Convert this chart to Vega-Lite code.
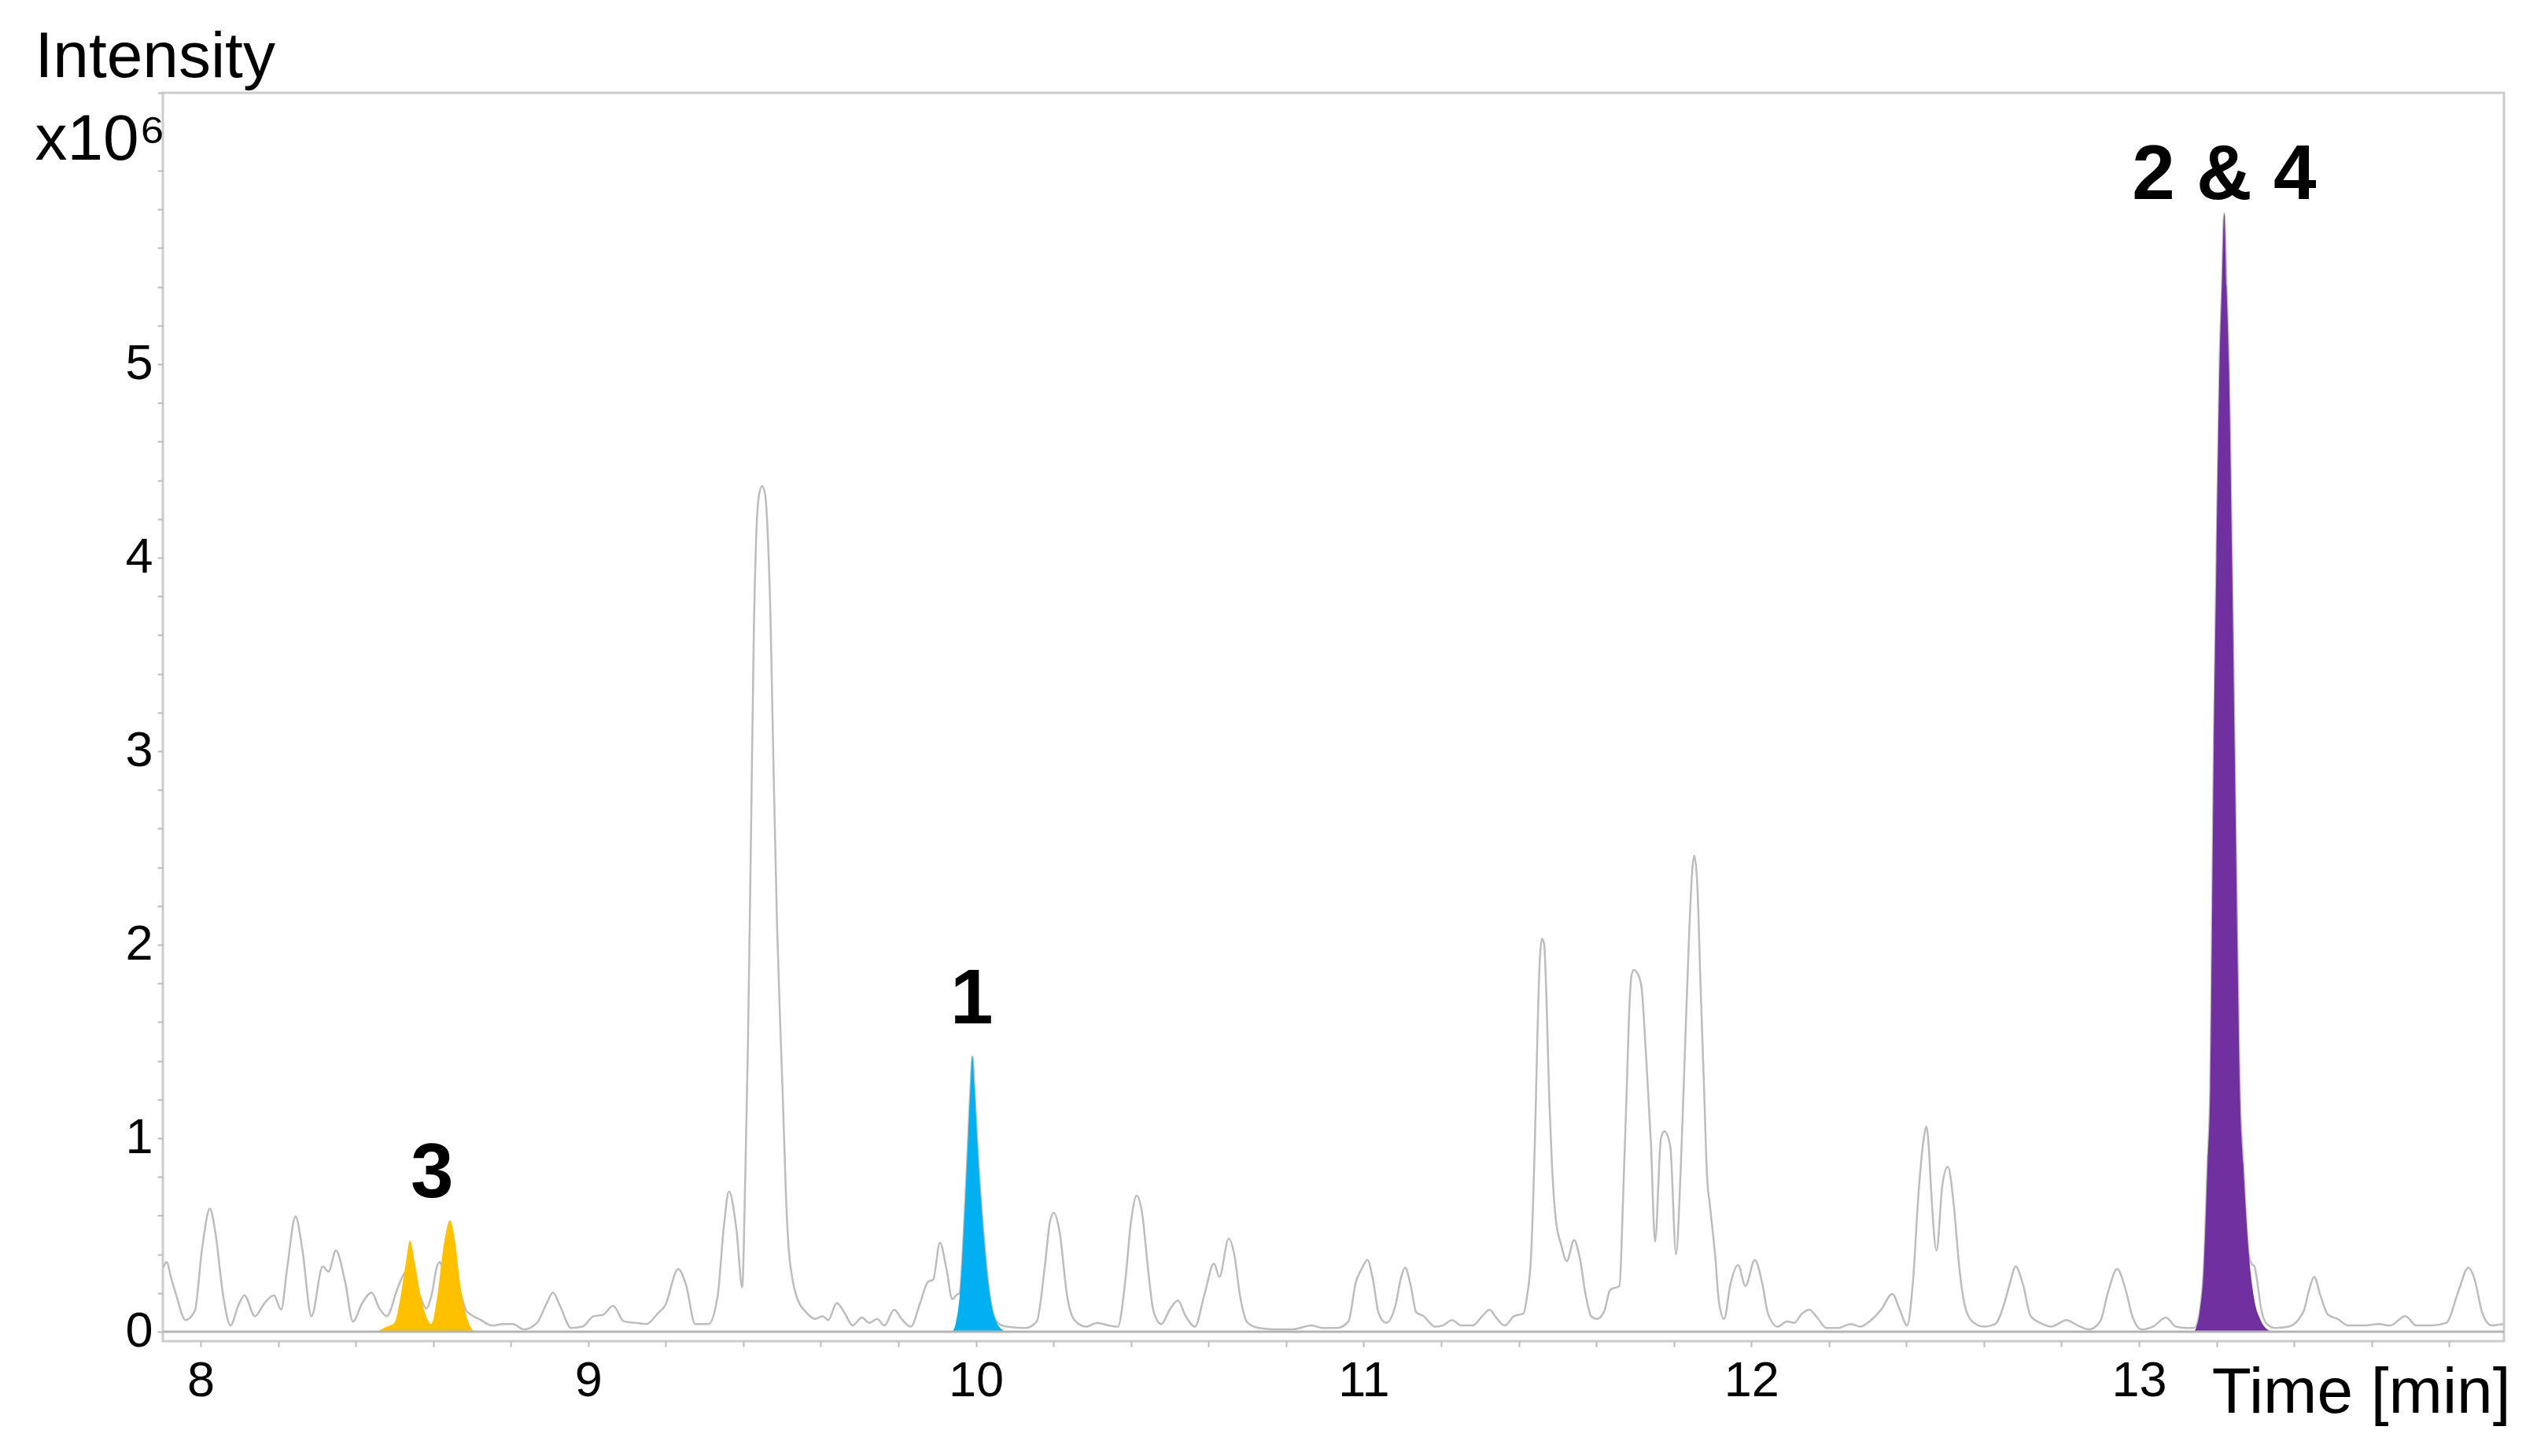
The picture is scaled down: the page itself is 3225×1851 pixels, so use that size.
{
 "$schema": "https://vega.github.io/schema/vega-lite/v6.json",
 "width": 2976,
 "height": 1587,
 "autosize": {"type": "none"},
 "padding": {"left": 207, "top": 118, "right": 42, "bottom": 146},
 "background": "white",
 "config": {"font": "Liberation Sans", "view": {"stroke": "#cccccc", "strokeWidth": 3}},
 "datasets": {
  "trace": [
{"t":7.903,"v":0.33},{"t":7.912,"v":0.36},{"t":7.925,"v":0.27},{"t":7.937,"v":0.19},{"t":7.961,"v":0.06},{"t":7.985,"v":0.107},{"t":8.004,"v":0.432},{"t":8.024,"v":0.636},{"t":8.038,"v":0.514},{"t":8.058,"v":0.189},{"t":8.077,"v":0.032},{"t":8.097,"v":0.134},{"t":8.113,"v":0.188},{"t":8.14,"v":0.08},{"t":8.165,"v":0.148},{"t":8.189,"v":0.188},{"t":8.208,"v":0.114},{"t":8.223,"v":0.324},{"t":8.245,"v":0.595},{"t":8.262,"v":0.432},{"t":8.286,"v":0.08},{"t":8.315,"v":0.337},{"t":8.33,"v":0.31},{"t":8.349,"v":0.419},{"t":8.373,"v":0.256},{"t":8.393,"v":0.053},{"t":8.417,"v":0.148},{"t":8.441,"v":0.202},{"t":8.461,"v":0.121},{"t":8.48,"v":0.08},{"t":8.509,"v":0.229},{"t":8.525,"v":0.3},{"t":8.54,"v":0.32},{"t":8.555,"v":0.25},{"t":8.567,"v":0.18},{"t":8.582,"v":0.12},{"t":8.597,"v":0.2},{"t":8.61,"v":0.34},{"t":8.617,"v":0.36},{"t":8.626,"v":0.32},{"t":8.645,"v":0.3},{"t":8.67,"v":0.2},{"t":8.685,"v":0.11},{"t":8.698,"v":0.087},{"t":8.723,"v":0.06},{"t":8.752,"v":0.032},{"t":8.781,"v":0.039},{"t":8.805,"v":0.039},{"t":8.834,"v":0.012},{"t":8.868,"v":0.046},{"t":8.893,"v":0.148},{"t":8.909,"v":0.202},{"t":8.927,"v":0.134},{"t":8.956,"v":0.019},{"t":8.985,"v":0.026},{"t":9.014,"v":0.08},{"t":9.038,"v":0.087},{"t":9.064,"v":0.134},{"t":9.092,"v":0.053},{"t":9.121,"v":0.046},{"t":9.15,"v":0.039},{"t":9.179,"v":0.094},{"t":9.198,"v":0.134},{"t":9.232,"v":0.324},{"t":9.252,"v":0.243},{"t":9.276,"v":0.039},{"t":9.31,"v":0.039},{"t":9.334,"v":0.188},{"t":9.349,"v":0.527},{"t":9.363,"v":0.724},{"t":9.383,"v":0.514},{"t":9.397,"v":0.229},{"t":9.405,"v":0.8},{"t":9.412,"v":1.5},{"t":9.42,"v":2.6},{"t":9.427,"v":3.6},{"t":9.434,"v":4.15},{"t":9.441,"v":4.33},{"t":9.448,"v":4.37},{"t":9.456,"v":4.33},{"t":9.463,"v":4.12},{"t":9.47,"v":3.7},{"t":9.478,"v":2.9},{"t":9.487,"v":2.1},{"t":9.495,"v":1.6},{"t":9.502,"v":1.2},{"t":9.51,"v":0.7},{"t":9.517,"v":0.43},{"t":9.526,"v":0.28},{"t":9.536,"v":0.19},{"t":9.565,"v":0.094},{"t":9.585,"v":0.066},{"t":9.604,"v":0.08},{"t":9.619,"v":0.06},{"t":9.641,"v":0.148},{"t":9.662,"v":0.094},{"t":9.682,"v":0.032},{"t":9.706,"v":0.073},{"t":9.725,"v":0.046},{"t":9.745,"v":0.066},{"t":9.764,"v":0.032},{"t":9.789,"v":0.114},{"t":9.808,"v":0.066},{"t":9.832,"v":0.026},{"t":9.856,"v":0.148},{"t":9.876,"v":0.256},{"t":9.89,"v":0.27},{"t":9.907,"v":0.46},{"t":9.924,"v":0.324},{"t":9.939,"v":0.168},{"t":9.95,"v":0.19},{"t":9.958,"v":0.2},{"t":9.968,"v":0.496},{"t":9.979,"v":0.962},{"t":9.986,"v":1.27},{"t":9.991,"v":1.422},{"t":9.996,"v":1.27},{"t":10.004,"v":0.962},{"t":10.02,"v":0.496},{"t":10.036,"v":0.185},{"t":10.051,"v":0.06},{"t":10.07,"v":0.03},{"t":10.089,"v":0.024},{"t":10.128,"v":0.019},{"t":10.157,"v":0.053},{"t":10.177,"v":0.324},{"t":10.191,"v":0.568},{"t":10.201,"v":0.615},{"t":10.216,"v":0.514},{"t":10.235,"v":0.188},{"t":10.254,"v":0.06},{"t":10.284,"v":0.026},{"t":10.313,"v":0.046},{"t":10.342,"v":0.032},{"t":10.366,"v":0.026},{"t":10.385,"v":0.256},{"t":10.4,"v":0.568},{"t":10.415,"v":0.703},{"t":10.429,"v":0.608},{"t":10.444,"v":0.324},{"t":10.458,"v":0.107},{"t":10.478,"v":0.039},{"t":10.502,"v":0.121},{"t":10.521,"v":0.161},{"t":10.541,"v":0.08},{"t":10.565,"v":0.026},{"t":10.589,"v":0.188},{"t":10.614,"v":0.351},{"t":10.628,"v":0.283},{"t":10.652,"v":0.48},{"t":10.667,"v":0.392},{"t":10.681,"v":0.188},{"t":10.701,"v":0.046},{"t":10.73,"v":0.019},{"t":10.769,"v":0.012},{"t":10.817,"v":0.012},{"t":10.866,"v":0.032},{"t":10.895,"v":0.019},{"t":10.932,"v":0.019},{"t":10.961,"v":0.053},{"t":10.98,"v":0.256},{"t":10.995,"v":0.324},{"t":11.01,"v":0.371},{"t":11.024,"v":0.27},{"t":11.039,"v":0.094},{"t":11.058,"v":0.046},{"t":11.082,"v":0.134},{"t":11.097,"v":0.283},{"t":11.107,"v":0.331},{"t":11.121,"v":0.243},{"t":11.136,"v":0.1},{"t":11.155,"v":0.08},{"t":11.184,"v":0.026},{"t":11.204,"v":0.032},{"t":11.228,"v":0.06},{"t":11.252,"v":0.032},{"t":11.281,"v":0.032},{"t":11.306,"v":0.08},{"t":11.325,"v":0.114},{"t":11.344,"v":0.067},{"t":11.364,"v":0.032},{"t":11.388,"v":0.08},{"t":11.412,"v":0.094},{"t":11.422,"v":0.188},{"t":11.432,"v":0.392},{"t":11.442,"v":1.0},{"t":11.448,"v":1.5},{"t":11.454,"v":1.9},{"t":11.46,"v":2.03},{"t":11.466,"v":2.0},{"t":11.472,"v":1.7},{"t":11.479,"v":1.2},{"t":11.485,"v":0.9},{"t":11.495,"v":0.595},{"t":11.51,"v":0.446},{"t":11.524,"v":0.365},{"t":11.543,"v":0.473},{"t":11.558,"v":0.378},{"t":11.573,"v":0.188},{"t":11.587,"v":0.08},{"t":11.602,"v":0.066},{"t":11.621,"v":0.107},{"t":11.636,"v":0.216},{"t":11.66,"v":0.236},{"t":11.67,"v":0.73},{"t":11.679,"v":1.27},{"t":11.685,"v":1.65},{"t":11.691,"v":1.84},{"t":11.697,"v":1.87},{"t":11.707,"v":1.85},{"t":11.717,"v":1.78},{"t":11.725,"v":1.55},{"t":11.733,"v":1.27},{"t":11.741,"v":0.98},{"t":11.752,"v":0.466},{"t":11.767,"v":1.0},{"t":11.776,"v":1.035},{"t":11.791,"v":0.96},{"t":11.806,"v":0.4},{"t":11.818,"v":0.84},{"t":11.828,"v":1.4},{"t":11.84,"v":2.07},{"t":11.848,"v":2.39},{"t":11.853,"v":2.46},{"t":11.861,"v":2.3},{"t":11.869,"v":1.8},{"t":11.878,"v":1.27},{"t":11.886,"v":0.8},{"t":11.893,"v":0.66},{"t":11.907,"v":0.39},{"t":11.917,"v":0.148},{"t":11.93,"v":0.066},{"t":11.946,"v":0.243},{"t":11.966,"v":0.344},{"t":11.985,"v":0.236},{"t":12.009,"v":0.371},{"t":12.029,"v":0.243},{"t":12.043,"v":0.094},{"t":12.068,"v":0.026},{"t":12.092,"v":0.053},{"t":12.111,"v":0.046},{"t":12.131,"v":0.094},{"t":12.15,"v":0.114},{"t":12.17,"v":0.073},{"t":12.194,"v":0.019},{"t":12.223,"v":0.019},{"t":12.257,"v":0.039},{"t":12.281,"v":0.026},{"t":12.305,"v":0.053},{"t":12.335,"v":0.114},{"t":12.364,"v":0.195},{"t":12.383,"v":0.114},{"t":12.402,"v":0.032},{"t":12.417,"v":0.256},{"t":12.432,"v":0.73},{"t":12.445,"v":1.0},{"t":12.452,"v":1.06},{"t":12.458,"v":0.95},{"t":12.464,"v":0.73},{"t":12.478,"v":0.419},{"t":12.493,"v":0.758},{"t":12.507,"v":0.852},{"t":12.522,"v":0.663},{"t":12.537,"v":0.324},{"t":12.551,"v":0.134},{"t":12.57,"v":0.053},{"t":12.6,"v":0.026},{"t":12.629,"v":0.039},{"t":12.653,"v":0.148},{"t":12.668,"v":0.256},{"t":12.682,"v":0.337},{"t":12.701,"v":0.243},{"t":12.721,"v":0.08},{"t":12.745,"v":0.046},{"t":12.774,"v":0.026},{"t":12.813,"v":0.06},{"t":12.842,"v":0.032},{"t":12.871,"v":0.012},{"t":12.9,"v":0.053},{"t":12.92,"v":0.202},{"t":12.944,"v":0.324},{"t":12.964,"v":0.229},{"t":12.983,"v":0.08},{"t":13.007,"v":0.012},{"t":13.036,"v":0.026},{"t":13.07,"v":0.073},{"t":13.095,"v":0.026},{"t":13.124,"v":0.019},{"t":13.143,"v":0.02},{"t":13.158,"v":0.12},{"t":13.167,"v":0.32},{"t":13.177,"v":0.87},{"t":13.184,"v":1.27},{"t":13.188,"v":2.0},{"t":13.193,"v":3.0},{"t":13.2,"v":4.0},{"t":13.208,"v":5.0},{"t":13.214,"v":5.4},{"t":13.22,"v":5.78},{"t":13.226,"v":5.4},{"t":13.232,"v":5.0},{"t":13.24,"v":4.0},{"t":13.247,"v":3.0},{"t":13.254,"v":2.0},{"t":13.26,"v":1.27},{"t":13.269,"v":0.87},{"t":13.284,"v":0.39},{"t":13.291,"v":0.35},{"t":13.298,"v":0.337},{"t":13.305,"v":0.26},{"t":13.315,"v":0.12},{"t":13.33,"v":0.04},{"t":13.352,"v":0.019},{"t":13.386,"v":0.026},{"t":13.425,"v":0.107},{"t":13.439,"v":0.216},{"t":13.452,"v":0.283},{"t":13.468,"v":0.188},{"t":13.488,"v":0.087},{"t":13.512,"v":0.066},{"t":13.541,"v":0.032},{"t":13.58,"v":0.032},{"t":13.619,"v":0.039},{"t":13.648,"v":0.032},{"t":13.687,"v":0.08},{"t":13.716,"v":0.032},{"t":13.755,"v":0.032},{"t":13.793,"v":0.046},{"t":13.823,"v":0.202},{"t":13.85,"v":0.331},{"t":13.866,"v":0.27},{"t":13.886,"v":0.094},{"t":13.91,"v":0.032},{"t":13.939,"v":0.039}
  ],
  "peaks": [
{"peak":"3","t":8.455,"v":0},{"peak":"3","t":8.48,"v":0.026},{"peak":"3","t":8.5,"v":0.046},{"peak":"3","t":8.514,"v":0.16},{"peak":"3","t":8.529,"v":0.35},{"peak":"3","t":8.54,"v":0.47},{"peak":"3","t":8.553,"v":0.35},{"peak":"3","t":8.567,"v":0.19},{"peak":"3","t":8.582,"v":0.08},{"peak":"3","t":8.595,"v":0.04},{"peak":"3","t":8.611,"v":0.19},{"peak":"3","t":8.626,"v":0.43},{"peak":"3","t":8.643,"v":0.575},{"peak":"3","t":8.657,"v":0.46},{"peak":"3","t":8.669,"v":0.256},{"peak":"3","t":8.684,"v":0.094},{"peak":"3","t":8.701,"v":0.01},{"peak":"3","t":8.708,"v":0},
{"peak":"1","t":9.94,"v":0},{"peak":"1","t":9.948,"v":0.045},{"peak":"1","t":9.958,"v":0.185},{"peak":"1","t":9.968,"v":0.496},{"peak":"1","t":9.979,"v":0.962},{"peak":"1","t":9.986,"v":1.27},{"peak":"1","t":9.991,"v":1.422},{"peak":"1","t":9.996,"v":1.27},{"peak":"1","t":10.004,"v":0.962},{"peak":"1","t":10.02,"v":0.496},{"peak":"1","t":10.036,"v":0.185},{"peak":"1","t":10.051,"v":0.06},{"peak":"1","t":10.072,"v":0.005},
{"peak":"2 & 4","t":13.143,"v":0},{"peak":"2 & 4","t":13.158,"v":0.12},{"peak":"2 & 4","t":13.167,"v":0.32},{"peak":"2 & 4","t":13.177,"v":0.87},{"peak":"2 & 4","t":13.184,"v":1.27},{"peak":"2 & 4","t":13.188,"v":2.0},{"peak":"2 & 4","t":13.193,"v":3.0},{"peak":"2 & 4","t":13.2,"v":4.0},{"peak":"2 & 4","t":13.208,"v":5.0},{"peak":"2 & 4","t":13.214,"v":5.4},{"peak":"2 & 4","t":13.22,"v":5.78},{"peak":"2 & 4","t":13.226,"v":5.4},{"peak":"2 & 4","t":13.232,"v":5.0},{"peak":"2 & 4","t":13.24,"v":4.0},{"peak":"2 & 4","t":13.247,"v":3.0},{"peak":"2 & 4","t":13.254,"v":2.0},{"peak":"2 & 4","t":13.26,"v":1.27},{"peak":"2 & 4","t":13.269,"v":0.87},{"peak":"2 & 4","t":13.284,"v":0.39},{"peak":"2 & 4","t":13.298,"v":0.16},{"peak":"2 & 4","t":13.313,"v":0.064},{"peak":"2 & 4","t":13.332,"v":0.01},{"peak":"2 & 4","t":13.342,"v":0}
  ],
  "labels": [
{"t":8.597,"v":0.695,"label":"3"},{"t":9.989,"v":1.593,"label":"1"},{"t":13.22,"v":5.854,"label":"2 & 4"}
  ]
 },
 "layer": [
  {
   "data": {"name": "trace"},
   "mark": {"type": "line", "color": "#bdbdbd", "strokeWidth": 2.5, "interpolate": "monotone", "clip": true},
   "encoding": {
    "x": {"field": "t", "type": "quantitative",
     "scale": {"domain": [7.9026, 13.9416], "nice": false, "zero": false},
     "axis": {
      "values": [8,8.2,8.4,8.6,8.8,9,9.2,9.4,9.6,9.8,10,10.2,10.4,10.6,10.8,11,11.2,11.4,11.6,11.8,12,12.2,12.4,12.6,12.8,13,13.2,13.4,13.6,13.8],
      "labelExpr": "abs(datum.value - round(datum.value)) < 0.001 ? '' + round(datum.value) : ''",
      "domain": false, "grid": false,
      "tickSize": 7, "tickColor": "#bbbbbb", "tickWidth": 2,
      "labelFontSize": 63, "labelColor": "black", "labelPadding": 12, "labelFlush": false, "labelOverlap": false,
      "title": "Time [min]", "titleFontSize": 82, "titleFontWeight": "normal", "titleColor": "black",
      "titleAlign": "right", "titleBaseline": "alphabetic", "titleX": 2984, "titleY": 90
     }},
    "y": {"field": "v", "type": "quantitative",
     "scale": {"domain": [-0.049, 6.402], "nice": false, "zero": false},
     "axis": {
      "values": [0,0.2,0.4,0.6,0.8,1,1.2,1.4,1.6,1.8,2,2.2,2.4,2.6,2.8,3,3.2,3.4,3.6,3.8,4,4.2,4.4,4.6,4.8,5,5.2,5.4,5.6,5.8,6,6.2,6.4],
      "labelExpr": "abs(datum.value - round(datum.value)) < 0.001 && datum.value < 5.5 ? '' + round(datum.value) : ''",
      "domain": false, "grid": false,
      "tickSize": 7, "tickColor": "#bbbbbb", "tickWidth": 2,
      "labelFontSize": 63, "labelColor": "black", "labelPadding": 6, "labelOverlap": false,
      "title": ["Intensity", "x10⁶"], "titleFontSize": 82, "titleFontWeight": "normal", "titleColor": "black",
      "titleAngle": 0, "titleAlign": "left", "titleBaseline": "alphabetic", "titleLineHeight": 105,
      "titleX": -163, "titleY": -21
     }}
   }
  },
  {
   "data": {"name": "peaks"},
   "mark": {"type": "area", "interpolate": "monotone", "opacity": 1},
   "encoding": {
    "x": {"field": "t", "type": "quantitative"},
    "y": {"field": "v", "type": "quantitative", "stack": null},
    "y2": {"datum": 0},
    "color": {"field": "peak", "type": "nominal",
     "scale": {"domain": ["3", "1", "2 & 4"], "range": ["#FFC000", "#00B0F0", "#7030A0"]},
     "legend": null}
   }
  },
  {
   "data": {"values": [{}]},
   "mark": {"type": "rule", "color": "#b4b4b4", "strokeWidth": 3},
   "encoding": {"y": {"datum": 0}}
  },
  {
   "data": {"name": "labels"},
   "mark": {"type": "text", "fontSize": 98, "fontWeight": "bold", "align": "center", "baseline": "alphabetic", "color": "black"},
   "encoding": {
    "x": {"field": "t", "type": "quantitative"},
    "y": {"field": "v", "type": "quantitative"},
    "text": {"field": "label"}
   }
  }
 ]
}
